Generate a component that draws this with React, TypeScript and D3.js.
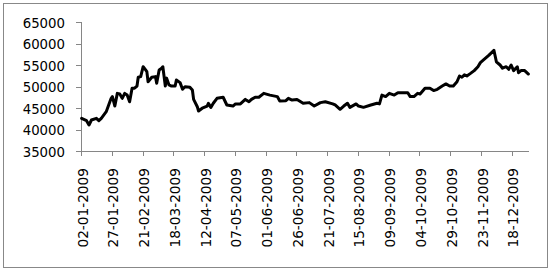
import React from "react";
import * as d3 from "d3";

const dates: string[] = [
  "2009-01-02","2009-01-06","2009-01-08","2009-01-10","2009-01-14","2009-01-16","2009-01-18","2009-01-22","2009-01-24","2009-01-26",
  "2009-01-27","2009-01-29","2009-01-31","2009-02-02","2009-02-04","2009-02-06","2009-02-08","2009-02-10","2009-02-12","2009-02-14",
  "2009-02-16","2009-02-17","2009-02-19","2009-02-21","2009-02-23","2009-02-24","2009-02-25","2009-02-28","2009-03-03","2009-03-04",
  "2009-03-06","2009-03-08","2009-03-09","2009-03-11","2009-03-12","2009-03-14","2009-03-16","2009-03-19","2009-03-20","2009-03-23",
  "2009-03-25","2009-03-27","2009-03-31","2009-04-02","2009-04-03","2009-04-06","2009-04-07","2009-04-10","2009-04-14","2009-04-15",
  "2009-04-17","2009-04-19","2009-04-22","2009-04-27","2009-04-30","2009-05-05","2009-05-07","2009-05-11","2009-05-15","2009-05-18",
  "2009-05-20","2009-05-23","2009-05-26","2009-05-30","2009-06-04","2009-06-10","2009-06-12","2009-06-17","2009-06-19","2009-06-22",
  "2009-06-26","2009-07-01","2009-07-06","2009-07-10","2009-07-15","2009-07-19","2009-07-25","2009-07-27","2009-07-31","2009-08-03",
  "2009-08-06","2009-08-08","2009-08-13","2009-08-15","2009-08-19","2009-08-25","2009-08-30","2009-09-01","2009-09-03","2009-09-06",
  "2009-09-09","2009-09-13","2009-09-16","2009-09-24","2009-09-26","2009-09-29","2009-10-02","2009-10-04","2009-10-08","2009-10-12",
  "2009-10-15","2009-10-18","2009-10-22","2009-10-25","2009-10-28","2009-10-31","2009-11-03","2009-11-05","2009-11-07","2009-11-09",
  "2009-11-11","2009-11-14","2009-11-17","2009-11-20","2009-11-22","2009-11-25","2009-11-29","2009-12-03","2009-12-04","2009-12-05",
  "2009-12-08","2009-12-10","2009-12-13","2009-12-15","2009-12-17","2009-12-19","2009-12-22","2009-12-23","2009-12-25","2009-12-28",
  "2009-12-31",
];

const values: number[] = [
  42600,42050,41050,42200,42600,42050,42600,44150,45700,47250,
  47650,45450,48400,48250,47250,48400,48000,46450,49600,49600,
  50100,52150,52300,54600,53850,53450,51100,52150,52300,50750,
  53850,54250,54600,50100,51950,50350,50100,50100,51500,50900,
  49350,49950,49800,49200,47000,45300,44300,44950,45450,46100,
  45150,46100,47250,47500,45700,45450,45950,45950,47000,46450,
  47000,47500,47500,48400,48000,47650,46650,46700,47250,46850,
  47000,46100,46250,45450,46250,46450,45950,45700,44700,45450,
  46100,45150,45950,45450,45150,45700,46100,45950,48000,47650,
  48400,48000,48550,48550,47650,47650,48400,48250,49600,49600,
  49050,49350,50100,50600,50100,50100,51100,52450,52150,52700,
  52450,53050,53700,54600,55550,56300,57300,58400,57100,55750,
  55000,54250,54600,54000,55000,53700,54600,53200,53700,53700,
  52900,
];

const xTickLabels: string[] = [
  "02-01-2009","27-01-2009","21-02-2009","18-03-2009","12-04-2009","07-05-2009","01-06-2009","26-06-2009",
  "21-07-2009","15-08-2009","09-09-2009","04-10-2009","29-10-2009","23-11-2009","18-12-2009",
];

const yTicks: number[] = [35000, 40000, 45000, 50000, 55000, 60000, 65000];

const axisStart = "2009-01-02";
const axisEnd = "2010-01-01";

export default function App() {
  const W = 551;
  const H = 272;
  const left = 81;
  const right = 529;
  const top = 22;
  const bottom = 151;

  const parse = d3.utcParse("%Y-%m-%d");
  const parseLabel = d3.utcParse("%d-%m-%Y");

  const x = d3
    .scaleUtc()
    .domain([parse(axisStart)!, parse(axisEnd)!])
    .range([left, right]);
  const y = d3.scaleLinear().domain([35000, 65000]).range([bottom, top]);

  const slot = x(d3.utcDay.offset(parse(axisStart)!, 1)) - x(parse(axisStart)!);

  const pts: [number, number][] = dates.map((d, i) => [x(parse(d)!) + slot / 2, y(values[i])]);
  const path = d3.line<[number, number]>().x((p) => p[0]).y((p) => p[1])(pts) || "";

  const axisColor = "#868686";
  const font = "'DejaVu Sans', Verdana, sans-serif";

  return (
    <svg
      width={W}
      height={H}
      style={{ position: "absolute", left: 0, top: 0, background: "#fff" }}
    >
      <rect x={3.5} y={3.5} width={544} height={264} fill="#fff" stroke="#888888" strokeWidth={1} />
      {/* Y axis */}
      <line x1={left + 0.5} x2={left + 0.5} y1={top} y2={bottom} stroke={axisColor} strokeWidth={1} />
      {yTicks.map((t) => (
        <g key={t}>
          <line x1={left - 5} x2={left} y1={Math.round(y(t)) + 0.5} y2={Math.round(y(t)) + 0.5} stroke={axisColor} />
          <text
            x={65}
            y={y(t) + 1}
            textAnchor="end"
            dominantBaseline="central"
            fontFamily={font}
            fontSize={13.3}
            fill="#000"
          >
            {t}
          </text>
        </g>
      ))}
      {/* X axis */}
      <line x1={left} x2={right} y1={bottom + 0.5} y2={bottom + 0.5} stroke={axisColor} strokeWidth={1} />
      {xTickLabels.map((lab) => {
        const tx = x(parseLabel(lab)!);
        return (
          <g key={lab}>
            <line x1={Math.round(tx) + 0.5} x2={Math.round(tx) + 0.5} y1={bottom} y2={bottom + 5} stroke={axisColor} />
            <text
              transform={`translate(${tx + 1.5},168) rotate(-90)`}
              textAnchor="end"
              dominantBaseline="central"
              fontFamily={font}
              fontSize={13.7}
              fill="#000"
            >
              {lab}
            </text>
          </g>
        );
      })}
      <path d={path} fill="none" stroke="#000" strokeWidth={3} strokeLinejoin="round" strokeLinecap="round" />
    </svg>
  );
}
